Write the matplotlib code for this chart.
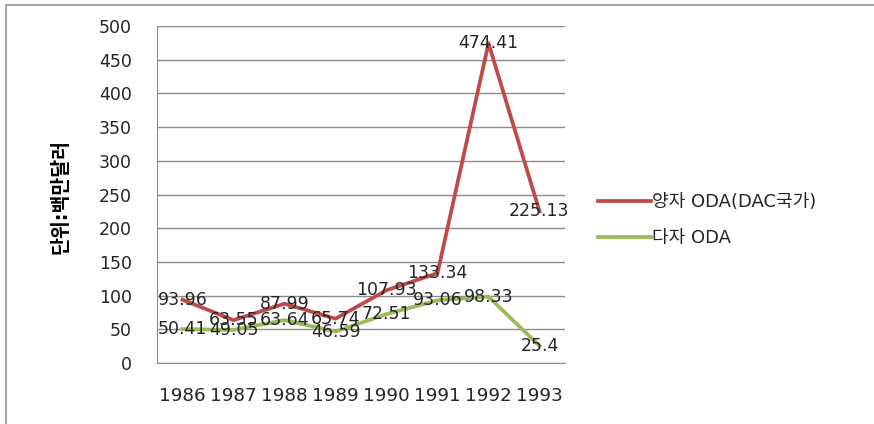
import matplotlib

matplotlib.use("Agg")
import matplotlib.pyplot as plt
from matplotlib.lines import Line2D

plt.rcParams["font.family"] = ["DejaVu Sans", "Noto Sans CJK KR"]

YEARS = ["1986", "1987", "1988", "1989", "1990", "1991", "1992", "1993"]
BILATERAL = [93.96, 63.55, 87.99, 65.74, 107.93, 133.34, 474.41, 225.13]
MULTILATERAL = [50.41, 49.05, 63.64, 46.59, 72.51, 93.06, 98.33, 25.4]
SERIES_NAMES = ["양자 ODA(DAC국가)", "다자 ODA"]
Y_LABEL = "단위:백만달러"

C_RED = "#be4b48"
C_GREEN = "#9bbb59"
TEXT = "#262626"
GRID = "#8c8c8c"
FRAME = "#a6a6a6"

W, H = 874, 424


def main():
    fig = plt.figure(figsize=(W / 100, H / 100), dpi=100)
    fig.patch.set_facecolor("white")

    # plot area in pixel coords -> figure fractions
    left, right, top, bottom = 157, 565, 26, 363
    ax = fig.add_axes([left / W, 1 - bottom / H, (right - left) / W, (bottom - top) / H])
    ax.set_facecolor("white")

    x = list(range(len(YEARS)))
    ax.plot(x, BILATERAL, color=C_RED, lw=2.7, zorder=3, solid_joinstyle="round",
            label=SERIES_NAMES[0])
    ax.plot(x, MULTILATERAL, color=C_GREEN, lw=2.7, zorder=3, solid_joinstyle="round",
            label=SERIES_NAMES[1])

    # value labels sit centred on each point, as in the source chart
    for series in (BILATERAL, MULTILATERAL):
        for xi, v in zip(x, series):
            ax.text(xi, v, f"{v:g}", ha="center", va="center", fontsize=12.5,
                    color=TEXT, zorder=4)

    ax.set_xlim(-0.5, len(YEARS) - 0.5)
    ax.set_ylim(0, 500)
    ax.set_yticks(range(0, 501, 50))
    ax.set_xticks(x)
    ax.set_xticklabels(YEARS)
    ax.tick_params(axis="y", length=0, pad=18, labelsize=12.5, colors=TEXT)
    ax.tick_params(axis="x", length=0, pad=17, labelsize=13.2, colors=TEXT)
    ax.grid(axis="y", color=GRID, lw=1.0, zorder=0)
    ax.set_axisbelow(True)
    ax.spines[["top", "right"]].set_visible(False)
    ax.spines["left"].set_color(GRID)
    ax.spines["bottom"].set_color(GRID)

    fig.text(61 / W, 1 - 196 / H, Y_LABEL, rotation=90, ha="center", va="center",
             fontsize=14, fontweight="bold", color="black")

    ax.legend(loc="center left", bbox_to_anchor=(582 / W, 1 - 220 / H),
              bbox_transform=fig.transFigure, frameon=False, fontsize=13,
              handlelength=2.9, handletextpad=0.1, labelspacing=1.0,
              labelcolor=TEXT)

    # outer chart frame (top and left edges visible)
    fig.add_artist(Line2D([6 / W, 1], [1 - 5 / H, 1 - 5 / H], color=FRAME, lw=1.5,
                          transform=fig.transFigure))
    fig.add_artist(Line2D([6 / W, 6 / W], [0, 1 - 5 / H], color=FRAME, lw=1.5,
                          transform=fig.transFigure))

    fig.savefig("out.png", dpi=100, facecolor="white")
    plt.close(fig)


if __name__ == "__main__":
    main()
